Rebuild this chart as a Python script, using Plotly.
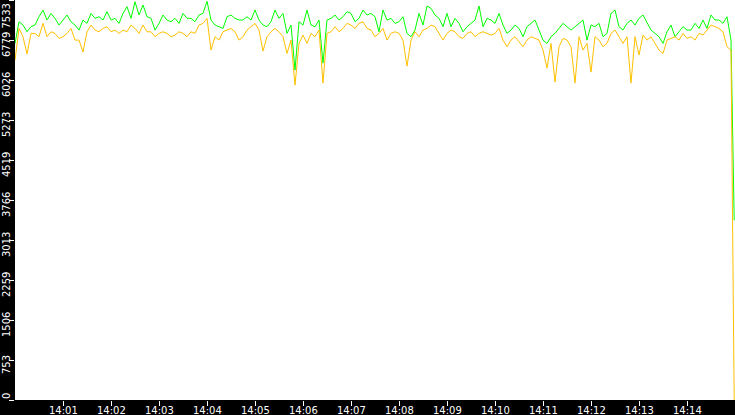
import pandas as pd
import plotly.graph_objects as go

# sample times: one reading every 5 seconds from 14:00:00, plus a final reading
start = "2024-01-01 14:00:00"
n_regular = 180
times = list(pd.date_range(start, periods=n_regular, freq="5s")) + [pd.Timestamp("2024-01-01 14:14:59")]

green_vals = [
    # 14:00:00 - 14:03:40
    6715, 7124, 7061, 6935, 7030, 7061, 7218, 7344, 7156, 7281, 7187, 7061, 7156, 7250, 7124,
    7061, 6967, 7156, 7093, 7281, 7187, 7218, 7156, 7313, 7156, 7187, 7093, 7281, 7407, 7187,
    7500, 7250, 7439, 7218, 7187, 6967, 7093, 7250, 7156, 7124, 7187, 7093, 7281, 7187, 7187,
    # 14:03:45 - 14:07:25
    7124, 7250, 7281, 7510, 7156, 7061, 7030, 6998, 7218, 7250, 7187, 7156, 7156, 7218, 7156,
    7344, 7156, 7061, 7030, 7124, 7344, 7187, 7281, 6904, 7061, 6213, 7124, 7061, 7344, 7061,
    7030, 7156, 6345, 7156, 7187, 7250, 7156, 7218, 7313, 7281, 7124, 7187, 7344, 7250, 7281,
    # 14:07:30 - 14:11:10
    7218, 6935, 7344, 7156, 7187, 7093, 7124, 7218, 6904, 6841, 6967, 7281, 7061, 7420, 7376,
    7250, 7187, 7030, 7281, 7030, 7187, 7093, 6935, 7030, 7093, 7156, 7420, 7030, 7187, 7156,
    7093, 7281, 7061, 6904, 6967, 7061, 6998, 6841, 7030, 7093, 7156, 6967, 6778, 6715, 6841,
    # 14:11:15 - 14:14:55
    6904, 6998, 7093, 7030, 6967, 7030, 7093, 7156, 6778, 7061, 7030, 7093, 6841, 6904, 7281,
    7344, 7030, 6967, 7093, 7156, 7061, 7187, 7250, 7093, 6967, 6904, 6841, 6715, 6935, 7061,
    6841, 6935, 7030, 6967, 6967, 7093, 6998, 7156, 6998, 7250, 7156, 7156, 7093, 7218, 6778,
    # 14:14:59
    3385,
]

orange_vals = [
    # 14:00:00 - 14:03:40
    6400, 6998, 6841, 6515, 6904, 6904, 6841, 7093, 6841, 6935, 6904, 6810, 6841, 6904, 6998,
    6778, 6778, 6552, 6935, 7061, 6967, 6935, 6998, 7030, 6935, 6967, 6904, 6967, 6935, 7061,
    6998, 6904, 7061, 6935, 6935, 6841, 6904, 6935, 6904, 6841, 6873, 6935, 6904, 6841, 6935,
    # 14:03:45 - 14:07:25
    6904, 7061, 7093, 7187, 6590, 6841, 6778, 6935, 6967, 6998, 6935, 6778, 6841, 6967, 7030,
    7093, 6967, 6571, 6841, 6935, 6998, 6935, 6841, 6527, 6778, 5930, 6715, 6873, 6715, 6904,
    6841, 6967, 5968, 6904, 6935, 7030, 6935, 6998, 7093, 7061, 6998, 7093, 7124, 6998, 6967,
    # 14:07:30 - 14:11:10
    6841, 6904, 6998, 6778, 6904, 6935, 6904, 6778, 6288, 6778, 6935, 6841, 6967, 6998, 7061,
    7030, 6904, 6778, 6904, 6967, 6935, 6841, 6810, 6904, 6935, 6841, 6904, 6935, 6904, 6873,
    6904, 6998, 6778, 6652, 6778, 6841, 6747, 6652, 6778, 6841, 6810, 6778, 6590, 6250, 6715,
    # 14:11:15 - 14:14:55
    5987, 6652, 6810, 6778, 6652, 5968, 6841, 6590, 6715, 6175, 6841, 6778, 6652, 6715, 6904,
    6967, 6841, 6715, 6841, 5968, 6841, 6496, 6873, 6778, 6841, 6715, 6590, 6527, 6778, 6810,
    6841, 6778, 6904, 6810, 6841, 6778, 6904, 6873, 6967, 7061, 7030, 6998, 6935, 6652, 6590,
    # 14:14:59
    0,
]

y_max = 7533
y_tick_vals = [0, 753.3, 1506.6, 2259.9, 3013.2, 3766.5, 4519.8, 5273.1, 6026.4, 6779.7, 7533]
y_tick_text = ["0", "753", "1506", "2259", "3013", "3766", "4519", "5273", "6026", "6779", "7533"]
x_tick_labels = ["14:01", "14:02", "14:03", "14:04", "14:05", "14:06", "14:07",
                 "14:08", "14:09", "14:10", "14:11", "14:12", "14:13", "14:14"]
x_tick_vals = ["2024-01-01 " + t + ":00" for t in x_tick_labels]

fig = go.Figure()
fig.add_trace(go.Scatter(x=times, y=green_vals, mode="lines",
                         line=dict(color="#00ff00", width=1), showlegend=False))
fig.add_trace(go.Scatter(x=times, y=orange_vals, mode="lines",
                         line=dict(color="#ffc000", width=1), showlegend=False))

font = dict(family="DejaVu Sans", size=10, color="white")

fig.update_layout(
    width=735, height=415,
    margin=dict(l=15, r=0, t=0, b=15, pad=0),
    paper_bgcolor="black", plot_bgcolor="white",
    showlegend=False,
    xaxis=dict(type="date", range=["2024-01-01 14:00:00", "2024-01-01 14:15:00"],
               tickvals=x_tick_vals, showticklabels=False,
               ticks="outside", ticklen=5, tickcolor="white", tickwidth=1,
               showgrid=False, zeroline=False, showline=False,
               automargin=False, fixedrange=True),
    yaxis=dict(range=[0, y_max], tickvals=y_tick_vals, showticklabels=False,
               ticks="outside", ticklen=5, tickcolor="white", tickwidth=1,
               showgrid=False, zeroline=False,
               showline=False, automargin=False, fixedrange=True),
)

# x tick labels just under the tick marks
for tv, tt in zip(x_tick_vals, x_tick_labels):
    fig.add_annotation(text=tt, xref="x", yref="paper", x=tv, y=0,
                       xanchor="center", yanchor="top", yshift=-4,
                       showarrow=False, font=font, borderpad=0)

# rotated y tick labels left of the tick marks
for i, (tv, tt) in enumerate(zip(y_tick_vals, y_tick_text)):
    if i == 0:
        kw = dict(yref="paper", y=0, yanchor="bottom", yshift=0)
    elif i == len(y_tick_vals) - 1:
        kw = dict(yref="paper", y=1, yanchor="top", yshift=-3)
    else:
        kw = dict(yref="y", y=tv, yanchor="middle", yshift=-5)
    fig.add_annotation(text=tt, xref="paper", x=0, xanchor="center", xshift=-9,
                       textangle=-90, showarrow=False, font=font, borderpad=0, **kw)

fig.write_html(
    "out.html",
    config={"displayModeBar": False},
    post_script="document.body.style.margin='0';document.body.style.overflow='hidden';",
)
